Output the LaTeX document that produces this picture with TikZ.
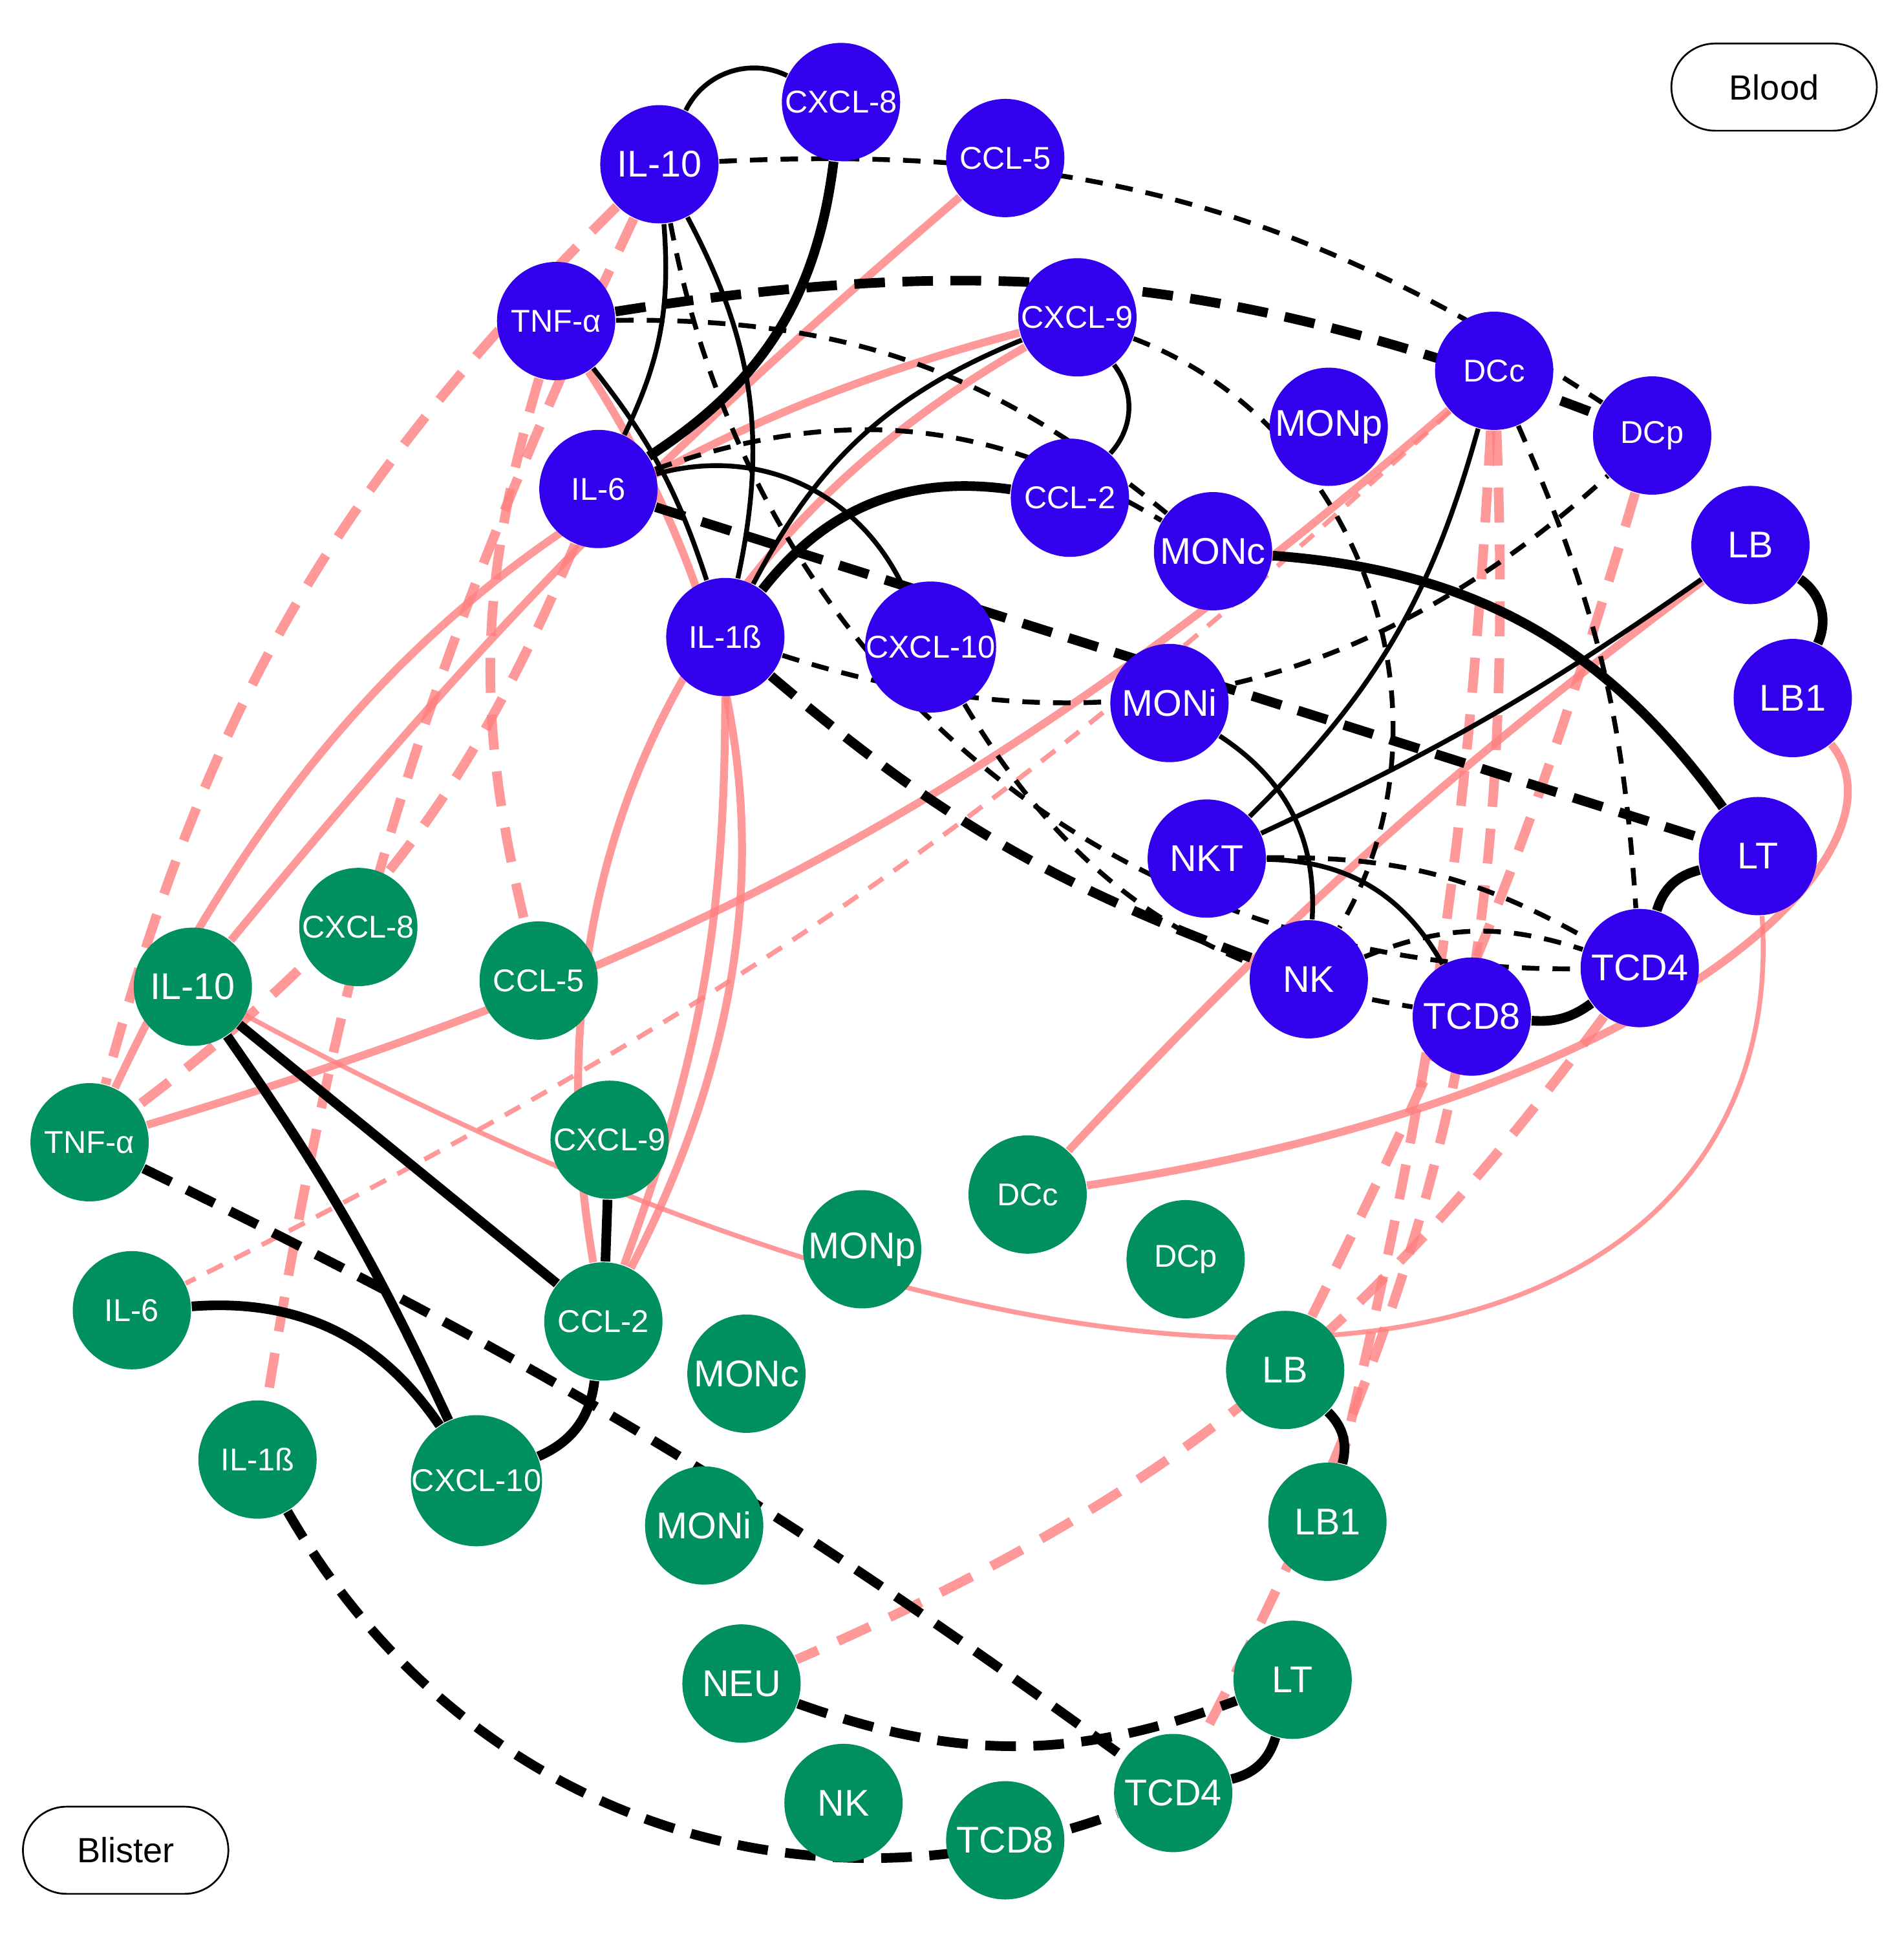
\documentclass[tikz,border=0pt]{standalone}
\usepackage{fontspec}
\setmainfont{Liberation Sans}
\usetikzlibrary{backgrounds}
\begin{document}
\begin{tikzpicture}[x=0.01cm,y=-0.01cm,
 n/.style={circle,minimum size=0.95cm,inner sep=0pt,text=white,font=\fontsize{7.2}{7.2}\selectfont},
 b/.style={n,fill={rgb,255:red,51;green,0;blue,238}},
 g/.style={n,fill={rgb,255:red,0;green,143;blue,95}},
 k/.style={draw=black,line width=1.1pt},
 kt/.style={draw=black,line width=2.2pt},
 kd/.style={draw=black,line width=1.1pt,dash pattern=on 4pt off 3pt},
 kdt/.style={draw=black,line width=2.2pt,dash pattern=on 7pt off 4pt},
 p/.style={draw={rgb,255:red,255;green,128;blue,128},line width=1.8pt,opacity=.8},
 pt/.style={draw={rgb,255:red,255;green,128;blue,128},line width=1.1pt,opacity=.8},
 pd/.style={draw={rgb,255:red,255;green,128;blue,128},line width=2.2pt,dash pattern=on 8pt off 5pt,opacity=.8},
 pdt/.style={draw={rgb,255:red,255;green,128;blue,128},line width=1.1pt,dash pattern=on 4pt off 3pt,opacity=.8},
 lab/.style={draw,rounded corners=0.35cm,minimum width=1.65cm,minimum height=0.7cm,font=\fontsize{8}{8}\selectfont}]
\useasboundingbox (0,0) rectangle (1530,1572);
% blue nodes
\node[b] (bIL10) at (530,132) {\fontsize{8.5}{8.5}\selectfont IL-10};
\node[b] (bCXCL8) at (676,82) {CXCL-8};
\node[b] (bCCL5) at (808,127) {CCL-5};
\node[b] (bTNF) at (447,258) {TNF-α};
\node[b] (bCXCL9) at (866,255) {CXCL-9};
\node[b] (bDCc) at (1201,298) {DCc};
\node[b] (bMONp) at (1068,343) {\fontsize{8.5}{8.5}\selectfont MONp};
\node[b] (bDCp) at (1328,350) {DCp};
\node[b] (bIL6) at (481,393) {IL-6};
\node[b] (bCCL2) at (860,400) {CCL-2};
\node[b] (bMONc) at (975,443) {\fontsize{8.5}{8.5}\selectfont MONc};
\node[b] (bLB) at (1407,438) {\fontsize{8.5}{8.5}\selectfont LB};
\node[b] (bIL1) at (583,512) {IL-1ß};
\node[b] (bCXCL10) at (748,520) {CXCL-10};
\node[b] (bMONi) at (940,565) {\fontsize{8.5}{8.5}\selectfont MONi};
\node[b] (bLB1) at (1441,561) {\fontsize{8.5}{8.5}\selectfont LB1};
\node[b] (bNKT) at (970,690) {\fontsize{8.5}{8.5}\selectfont NKT};
\node[b] (bLT) at (1413,688) {\fontsize{8.5}{8.5}\selectfont LT};
\node[b] (bNK) at (1052,787) {\fontsize{8.5}{8.5}\selectfont NK};
\node[b] (bTCD4) at (1318,778) {\fontsize{8.5}{8.5}\selectfont TCD4};
\node[b] (bTCD8) at (1183,817) {\fontsize{8.5}{8.5}\selectfont TCD8};
% green nodes
\node[g] (gCXCL8) at (288,745) {CXCL-8};
\node[g] (gIL10) at (155,793) {\fontsize{8.5}{8.5}\selectfont IL-10};
\node[g] (gCCL5) at (433,788) {CCL-5};
\node[g] (gTNF) at (72,918) {TNF-α};
\node[g] (gCXCL9) at (490,916) {CXCL-9};
\node[g] (gDCc) at (826,960) {DCc};
\node[g] (gMONp) at (693,1004) {\fontsize{8.5}{8.5}\selectfont MONp};
\node[g] (gDCp) at (953,1012) {DCp};
\node[g] (gIL6) at (106,1053) {IL-6};
\node[g] (gCCL2) at (485,1062) {CCL-2};
\node[g] (gMONc) at (600,1104) {\fontsize{8.5}{8.5}\selectfont MONc};
\node[g] (gLB) at (1033,1101) {\fontsize{8.5}{8.5}\selectfont LB};
\node[g] (gIL1) at (207,1173) {IL-1ß};
\node[g] (gCXCL10) at (383,1190) {CXCL-10};
\node[g] (gMONi) at (566,1226) {\fontsize{8.5}{8.5}\selectfont MONi};
\node[g] (gLB1) at (1067,1223) {\fontsize{8.5}{8.5}\selectfont LB1};
\node[g] (gNEU) at (596,1353) {\fontsize{8.5}{8.5}\selectfont NEU};
\node[g] (gLT) at (1039,1350) {\fontsize{8.5}{8.5}\selectfont LT};
\node[g] (gNK) at (678,1449) {\fontsize{8.5}{8.5}\selectfont NK};
\node[g] (gTCD4) at (943,1441) {\fontsize{8.5}{8.5}\selectfont TCD4};
\node[g] (gTCD8) at (808,1479) {\fontsize{8.5}{8.5}\selectfont TCD8};
\node[lab] (blood) at (1426,70) {Blood};
\node[lab] (blister) at (101,1487) {Blister};
\begin{scope}[on background layer]
% pink cross edges
\path[pd] (bIL10) to[bend right=15] (gTNF);
\path[pd] (bIL10) to[bend right=8] (gIL1);
\path[p] (bCCL5) to[bend right=5] (gIL10);
\path[p] (bCXCL9) to[bend right=25] (gTNF);
\path[p] (bCXCL9) to[bend right=35] (gCCL2);
\path[pd] (bTNF) to[bend right=15] (gCCL5);
\path[p] (bTNF) to[bend left=30] (gCCL2);
\path[pd] (bIL6) to[bend left=15] (gTNF);
\path[p] (bIL1) to[bend left=10] (gCCL2);
\path[p] (bDCc) to[bend left=12] (gTNF);
\path[pdt] (bDCc) to[bend left=8] (gIL6);
\path[pd] (bDCc) to[bend left=5] (gLB1);
\path[pd] (bDCc) to[bend left=15] (gTCD4);
\path[pd] (bDCp) to[bend left=5] (gLB);
\path[p] (bLB) to[bend right=5] (gDCc);
\path[p] (bLB1) .. controls (1540,680) and (1350,880) .. (gDCc);
\path[pd] (bTCD4) to[bend left=15] (gNEU);
\path[pt] (bLT) .. controls (1440,1080) and (1000,1250) .. (gIL10);
% black edges blue
\path[k] (bIL10) to[bend left=45] (bCXCL8);
\path[kt] (bCXCL8) to[bend left=25] (bIL6);
\path[k] (bIL10) to[bend left=20] (bIL1);
\path[k] (bIL10) to[bend left=15] (bIL6);
\path[k] (bTNF) to[bend left=10] (bIL1);
\path[k] (bCXCL9) to[bend right=20] (bIL1);
\path[k] (bCXCL9) to[bend left=40] (bCCL2);
\path[kt] (bCCL2) to[bend right=30] (bIL1);
\path[k] (bIL6) to[bend left=40] (bCXCL10);
\path[kt] (bMONc) to[bend left=25] (bLT);
\path[kt] (bLB) to[bend left=40] (bLB1);
\path[k] (bLB) to[bend left=5] (bNKT);
\path[k] (bDCc) to[bend left=15] (bNKT);
\path[k] (bMONi) to[bend left=30] (bNK);
\path[k] (bNKT) to[bend left=30] (bTCD8);
\path[kt] (bLT) to[bend right=30] (bTCD4);
\path[kt] (bTCD8) to[bend right=20] (bTCD4);
\path[kd] (bIL10) to[bend left=18] (bDCp);
\path[kdt] (bTNF) to[bend left=15] (bDCp);
\path[kdt] (bIL6) to (bLT);
\path[kdt] (bIL1) to[bend right=10] (bNK);
\path[kd] (bIL1) to[bend right=30] (bDCp);
\path[kd] (bTNF) to[bend left=20] (bMONc);
\path[kd] (bIL6) to[bend left=25] (bMONc);
\path[kd] (bIL10) to[bend right=40] (bTCD4);
\path[kd] (bCXCL10) to[bend right=25] (bTCD8);
\path[kd] (bNKT) to[bend left=15] (bTCD4);
\path[kd] (bNK) to[bend left=20] (bTCD4);
\path[kd] (bCXCL9) to[bend left=50] (bNK);
\path[kd] (bDCc) to[bend left=10] (bTCD4);
% black edges green
\path[kt] (gIL10) to (gCCL2);
\path[kt] (gIL10) to[bend left=5] (gCXCL10);
\path[kt] (gCXCL9) to (gCCL2);
\path[kt] (gIL6) to[bend left=30] (gCXCL10);
\path[kt] (gCCL2) to[bend left=30] (gCXCL10);
\path[kdt] (gTNF) to[bend left=5] (gTCD4);
\path[kdt] (gIL1) to[bend right=40] (gTCD4);
\path[kdt] (gNEU) to[bend right=20] (gLT);
\path[kt] (gLB) to[bend left=30] (gLB1);
\path[kt] (gLT) to[bend left=30] (gTCD4);
\end{scope}
\end{tikzpicture}
\end{document}
